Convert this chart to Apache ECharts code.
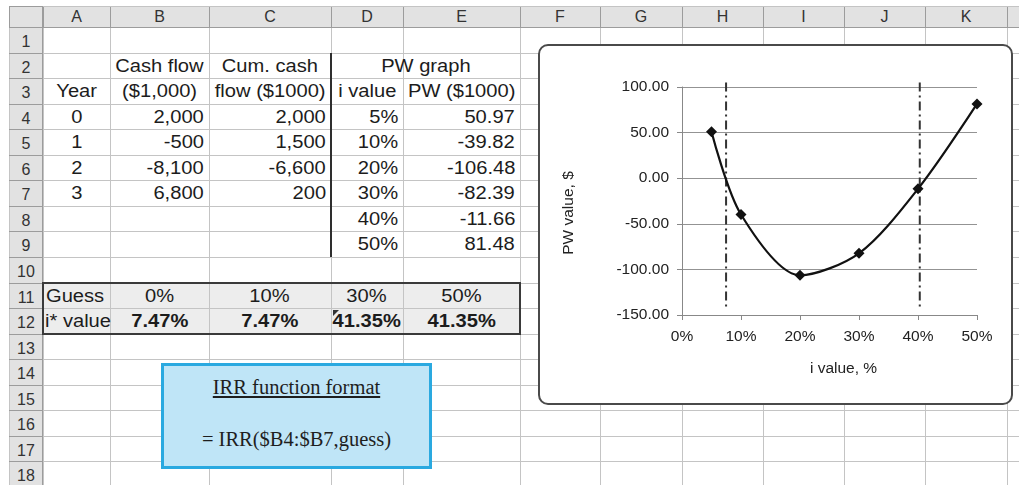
<!DOCTYPE html>
<html><head><meta charset="utf-8">
<script src="https://cdn.jsdelivr.net/npm/echarts@6/dist/echarts.min.js"></script>
<style>
html,body{margin:0;padding:0;background:#fff;width:1019px;height:485px;overflow:hidden;font-family:"Liberation Sans",Arial,sans-serif;}
#sheet{position:absolute;left:0;top:0;width:1019px;height:485px;overflow:hidden;}
.t{position:absolute;box-sizing:border-box;white-space:nowrap;color:#1c1c1c;font-size:17.5px;padding:2px 5px 0 5px;}
.t span{display:inline-block;transform:scaleX(1.15);}
.h{position:absolute;box-sizing:border-box;white-space:nowrap;color:#333;font-size:16px;text-align:center;}
#frame{position:absolute;left:538px;top:44px;width:475px;height:361px;box-sizing:border-box;border:2px solid #4a4a4a;border-radius:10px;background:#fff;}
#callout{position:absolute;left:161px;top:363px;width:271px;height:106px;box-sizing:border-box;border:3px solid #2aa9e0;background:#bfe5f7;font-family:"Liberation Serif","Times New Roman",serif;font-size:20.5px;color:#1e1e1e;text-align:center;}
#chart{position:absolute;left:0;top:0;width:1019px;height:485px;}
</style>
</head><body>
<div id="sheet"></div>
<div id="frame"></div>
<div id="callout">
  <div style="position:absolute;left:0;right:0;top:10px;"><u>IRR function format</u></div>
  <div style="position:absolute;left:0;right:0;top:62px;">= IRR($B4:$B7,guess)</div>
</div>
<div id="chart"></div>
<script>
// ---- data ----
const colLetters = ['A','B','C','D','E','F','G','H','I','J','K','L'];
const years = [0, 1, 2, 3];
const cashFlow = [2000, -500, -8100, 6800];
const cumCash = [2000, 1500, -6600, 200];
const iValues = [5, 10, 20, 30, 40, 50];
const pwValues = [50.97, -39.82, -106.48, -82.39, -11.66, 81.48];
const guesses = [0, 10, 30, 50];
const irrResults = [7.47, 7.47, 41.35, 41.35];
const irrMarkerX = [7.47, 40.3]; // dash-dot marker positions as drawn in the picture
const markerSpan = [105, -145];

// ---- spreadsheet layout ----
const COLX = [9, 43, 110, 209, 331, 403, 520, 600, 682, 763, 844, 925, 1007, 1090];
const HEAD_TOP = 6, ROW1 = 27, RH = 25.55;
function rowTop(n){ return n === 0 ? HEAD_TOP : ROW1 + (n - 1) * RH; }
const sheet = document.getElementById('sheet');
function box(l, t, w, h, style){
  const d = document.createElement('div');
  d.style.cssText = `position:absolute;left:${l}px;top:${t}px;width:${w}px;height:${h}px;box-sizing:border-box;` + (style || '');
  sheet.appendChild(d); return d;
}
// backgrounds
box(9, 6, 1010, 21, 'background:#e2e2e2;');
box(9, 6, 34, 479, 'background:#e2e2e2;');
box(43, rowTop(11), COLX[6] - 43, rowTop(13) - rowTop(11), 'background:#ededed;');
// grid lines
for (let i = 0; i < COLX.length; i++){
  box(COLX[i], 27, 1, 460, 'background:#c4c4c4;');
  box(COLX[i], 6, 1, 21, 'background:#9c9c9c;');
}
for (let n = 0; n <= 19; n++){
  const y = Math.round(rowTop(n));
  box(43, y, 1000, 1, 'background:#c4c4c4;');
  box(9, y, 34, 1, 'background:#9c9c9c;');
}
box(9, 27, 1010, 1, 'background:#9c9c9c;');
box(42, 6, 1, 479, 'background:#9c9c9c;');
// thick separator between C and D
box(330, Math.round(rowTop(2)), 2, Math.round(rowTop(10) - rowTop(2)), 'background:#2e2e2e;');
// box around rows 11-12
box(42, Math.round(rowTop(11)) - 1, COLX[6] - 42 + 1, Math.round(rowTop(13) - rowTop(11)) + 2, 'border:2px solid #3a3a3a;');
// headers
for (let k = 0; k < colLetters.length; k++){
  const d = box(COLX[k + 1], 6, COLX[k + 2] - COLX[k + 1], 21, 'line-height:21px;');
  d.className = 'h'; d.textContent = colLetters[k];
}
for (let n = 1; n <= 18; n++){
  const t = rowTop(n);
  const d = box(9, t, 34, RH, `line-height:${RH}px;padding-top:2px;`);
  d.className = 'h'; d.textContent = String(n);
}
function txt(c0, c1, row, text, align, extra){
  const t = rowTop(row), h = rowTop(row + 1) - t;
  const d = box(COLX[c0], t, COLX[c1 + 1] - COLX[c0], h, `line-height:${h - 2}px;text-align:${align};` + (extra || ''));
  d.className = 't';
  const s = document.createElement('span');
  s.style.transformOrigin = align === 'right' ? 'right center' : align === 'left' ? 'left center' : 'center center';
  s.textContent = text; d.appendChild(s);
}
const fmt = v => v.toLocaleString('en-US');
txt(2, 2, 2, 'Cash flow', 'center');
txt(3, 3, 2, 'Cum. cash', 'center');
txt(4, 5, 2, 'PW graph', 'center');
txt(1, 1, 3, 'Year', 'center');
txt(2, 2, 3, '($1,000)', 'center');
txt(3, 3, 3, 'flow ($1000)', 'center');
txt(4, 4, 3, 'i value', 'center');
txt(5, 5, 3, 'PW ($1000)', 'center');
years.forEach((y, i) => {
  txt(1, 1, 4 + i, String(y), 'center');
  txt(2, 2, 4 + i, fmt(cashFlow[i]), 'right');
  txt(3, 3, 4 + i, fmt(cumCash[i]), 'right');
});
iValues.forEach((v, i) => {
  txt(4, 4, 4 + i, v + '%', 'right');
  txt(5, 5, 4 + i, pwValues[i].toFixed(2), 'right');
});
txt(1, 1, 11, 'Guess', 'left', 'padding-left:3px;');
txt(1, 1, 12, 'i* value', 'left', 'padding-left:2px;');
guesses.forEach((g, i) => {
  txt(2 + i, 2 + i, 11, g + '%', 'center');
  txt(2 + i, 2 + i, 12, irrResults[i].toFixed(2) + '%', 'center', 'font-weight:bold;');
});
// error indicator corner in D12
box(333, Math.round(rowTop(12)) + 2, 0, 0, 'border-top:6px solid #333;border-right:6px solid transparent;');

// ---- chart ----
const chart = echarts.init(document.getElementById('chart'), null, {renderer: 'canvas'});
const FONT = '"Liberation Sans", Arial, sans-serif';
const irrSeries = irrMarkerX.map(x => ({
  type: 'line',
  data: markerSpan.map(y => [x, y]),
  symbol: 'none',
  silent: true,
  clip: false,
  lineStyle: {color: '#333', width: 2, type: [9, 4, 2, 4]},
  z: 2
}));
chart.setOption({
  backgroundColor: 'transparent',
  animation: false,
  grid: {left: 682, top: 87, width: 295, height: 228, containLabel: false},
  xAxis: {
    type: 'value', min: 0, max: 50, interval: 10,
    axisLine: {show: true, onZero: false, lineStyle: {color: '#888', width: 1}},
    axisTick: {show: true, length: 5, lineStyle: {color: '#888'}},
    splitLine: {show: false},
    axisLabel: {formatter: '{value}%', fontSize: 15.5, color: '#222', margin: 14, fontFamily: FONT},
    name: 'i value, %', nameLocation: 'middle', nameGap: 46,
    nameTextStyle: {fontSize: 15.5, color: '#222', fontFamily: FONT, padding: [0, 0, 0, 28]}
  },
  yAxis: {
    type: 'value', min: -150, max: 100, interval: 50,
    axisLine: {show: true, lineStyle: {color: '#888', width: 1}},
    axisTick: {show: true, length: 5, lineStyle: {color: '#888'}},
    splitLine: {show: true, lineStyle: {color: '#939393', width: 1}},
    axisLabel: {formatter: v => v.toFixed(2), fontSize: 15.5, color: '#222', margin: 13, fontFamily: FONT},
    name: 'PW value, $', nameLocation: 'middle', nameGap: 105, nameRotate: 90,
    nameTextStyle: {fontSize: 15.5, color: '#222', fontFamily: FONT, padding: [0, 24, 0, 0]}
  },
  series: [{
    type: 'line',
    data: iValues.map((x, i) => [x, pwValues[i]]),
    smooth: 0.3,
    symbol: 'diamond', symbolSize: 11,
    itemStyle: {color: '#111'},
    lineStyle: {color: '#111', width: 2.2},
    z: 3
  }].concat(irrSeries)
});
</script>
</body></html>
